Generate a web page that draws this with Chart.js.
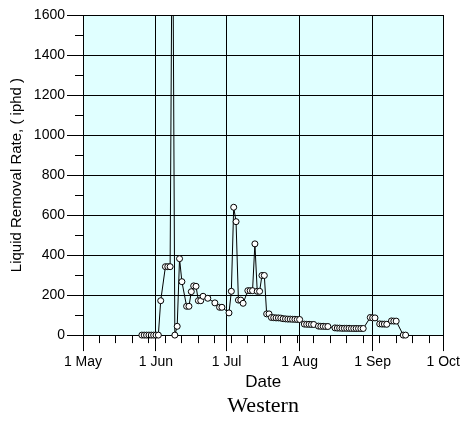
<!DOCTYPE html>
<html><head><meta charset="utf-8">
<script src="https://cdn.jsdelivr.net/npm/chart.js@4.4.0/dist/chart.umd.min.js"></script>
<style>html,body{margin:0;padding:0;background:#fff;}canvas{display:block;}</style>
</head><body>
<canvas id="c" width="463" height="421"></canvas>
<script>
// Days counted from 1 May (1 May = 0)
const monthDays = [0, 31, 61, 92, 123, 153];
const monthLabels = ['1 May', '1 Jun', '1 Jul', '1 Aug', '1 Sep', '1 Oct'];
const weekTickDays = [7, 14, 21, 28, 35, 42, 49, 56, 63, 70, 77, 84, 91, 98, 105, 112, 119, 126, 133, 140, 147];
const yMajorTicks = [0, 200, 400, 600, 800, 1000, 1200, 1400, 1600];
const yMinorTicks = [100, 300, 500, 700, 900, 1100, 1300, 1500];

const sampleDays = [
  25, 26, 27, 28, 29, 30, 31, 32, 33, 35, 36, 37, 38, 39, 40, 41, 42, 44, 45, 46, 47, 48, 49, 50, 51, 53, 56, 58, 59,
  62, 63, 64, 65, 66, 67, 68, 70, 71, 72, 73, 74, 75, 76, 77, 78, 79, 80, 81, 82, 83, 84, 85, 86, 87, 88, 89, 90, 91, 92,
  94, 95, 96, 97, 98, 100, 101, 102, 103, 104, 107, 108, 109, 110, 111, 112, 113, 114, 115, 116, 117, 118, 119,
  122, 123, 124, 126, 127, 128, 129, 131, 132, 133, 136, 137
];
const liquidRate = [
  0, 0, 0, 0, 0, 0, 0, 0, 172, 342, 342, 342, 2400, 0, 44, 382, 267, 144, 144, 217, 246, 244, 172, 172, 194, 184, 161, 139, 139,
  111, 219, 639, 567, 175, 175, 159, 222, 222, 222, 456, 219, 219, 298, 298, 106, 106, 88, 87, 86, 86, 85, 82, 81, 80, 80, 79, 79, 78, 78,
  55, 54, 54, 53, 53, 45, 44, 44, 43, 43, 36, 35, 35, 34, 34, 34, 34, 33, 33, 33, 33, 33, 33,
  88, 86, 86, 56, 55, 55, 54, 71, 70, 70, 0, 0
];

const points = sampleDays.map((d, i) => ({ x: d, y: liquidRate[i] }));
const sans = '"Liberation Sans", Arial, sans-serif';

const plotBg = {
  id: 'plotBg',
  beforeDraw(chart) {
    const { ctx, chartArea: a } = chart;
    ctx.save();
    ctx.fillStyle = '#E0FFFF';
    ctx.fillRect(a.left, a.top, a.right - a.left, a.bottom - a.top);
    ctx.restore();
  }
};

const minorTicks = {
  id: 'minorTicks',
  afterDraw(chart) {
    const { ctx, chartArea: a } = chart;
    const xs = chart.scales.x, ys = chart.scales.y;
    ctx.save();
    ctx.strokeStyle = '#000';
    ctx.lineWidth = 1;
    ctx.beginPath();
    weekTickDays.forEach(d => {
      const px = Math.round(xs.getPixelForValue(d) - 0.5) + 0.5;
      ctx.moveTo(px, a.bottom);
      ctx.lineTo(px, a.bottom + 8);
    });
    yMinorTicks.forEach(v => {
      const py = Math.round(ys.getPixelForValue(v) - 0.5) + 0.5;
      ctx.moveTo(a.left - 8, py);
      ctx.lineTo(a.left, py);
    });
    ctx.stroke();
    ctx.restore();
  }
};

new Chart(document.getElementById('c').getContext('2d'), {
  type: 'line',
  data: {
    datasets: [{
      data: points,
      borderColor: '#000',
      borderWidth: 1,
      pointRadius: 3,
      pointBackgroundColor: '#fff',
      pointBorderColor: '#000',
      pointBorderWidth: 1,
      tension: 0,
      clip: { left: 8, right: 8, top: 0, bottom: 8 }
    }]
  },
  options: {
    responsive: false,
    animation: false,
    devicePixelRatio: 1,
    layout: { padding: { top: 15, right: 19, left: 0, bottom: 0 } },
    plugins: {
      legend: { display: false },
      tooltip: { enabled: false },
      title: {
        display: true, position: 'bottom', fullSize: false, text: 'Western', color: '#000',
        font: { family: '"Liberation Serif", "Times New Roman", serif', size: 22, weight: 'normal' },
        padding: { top: 0, bottom: 2 }
      }
    },
    scales: {
      x: {
        type: 'linear', min: 0, max: 153,
        afterBuildTicks: s => { s.ticks = monthDays.map(v => ({ value: v })); },
        ticks: {
          callback: (v, i) => monthLabels[i],
          color: '#000', font: { family: sans, size: 14 }, padding: 3, maxRotation: 0, autoSkip: false
        },
        grid: { color: '#000', lineWidth: 1, tickLength: 16, tickColor: '#000' },
        border: { color: '#000', width: 1 },
        title: { display: true, text: 'Date', color: '#000', font: { family: sans, size: 17 }, padding: { top: 0, bottom: 0 } },
        afterFit: s => { s.height = 57.5; }
      },
      y: {
        type: 'linear', min: 0, max: 1600,
        afterBuildTicks: s => { s.ticks = yMajorTicks.map(v => ({ value: v })); },
        ticks: { callback: v => String(v), color: '#000', font: { family: sans, size: 14 }, padding: 2 },
        grid: { color: '#000', lineWidth: 1, tickLength: 16, tickColor: '#000' },
        border: { color: '#000', width: 1 },
        title: { display: true, text: 'Liquid Removal Rate, ( iphd )', color: '#000', font: { family: sans, size: 15 }, padding: { top: 8, bottom: 0 } },
        afterFit: s => { s.width = 83; }
      }
    }
  },
  plugins: [plotBg, minorTicks]
});
</script>
</body></html>
